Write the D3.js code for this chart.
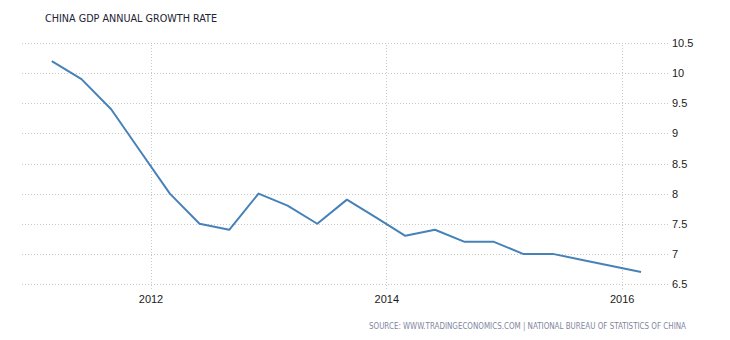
<!DOCTYPE html>
<html>
<head>
<meta charset="utf-8">
<script src="https://cdn.jsdelivr.net/npm/d3@7"></script>
<style>
  html, body { margin: 0; padding: 0; background: #fff; }
  svg { display: block; }
</style>
</head>
<body>
<svg id="chart" width="730" height="340"></svg>
<script>
// Quarterly observations (year-over-year GDP growth, %)
const dates = [
  "2011-03-01", "2011-06-01", "2011-09-01", "2011-12-01",
  "2012-03-01", "2012-06-01", "2012-09-01", "2012-12-01",
  "2013-03-01", "2013-06-01", "2013-09-01", "2013-12-01",
  "2014-03-01", "2014-06-01", "2014-09-01", "2014-12-01",
  "2015-03-01", "2015-06-01", "2015-09-01", "2015-12-01",
  "2016-03-01"
];
const growth = [
  10.2, 9.9, 9.4, 8.7,
  8.0, 7.5, 7.4, 8.0,
  7.8, 7.5, 7.9, 7.6,
  7.3, 7.4, 7.2, 7.2,
  7.0, 7.0, 6.9, 6.8,
  6.7
];
const yTicks = [6.5, 7, 7.5, 8, 8.5, 9, 9.5, 10, 10.5];
const xTickYears = [2012, 2014, 2016];

const titleText = "CHINA GDP ANNUAL GROWTH RATE";
const sourceText = "SOURCE: WWW.TRADINGECONOMICS.COM | NATIONAL BUREAU OF STATISTICS OF CHINA";

const parse = d3.timeParse("%Y-%m-%d");
const data = dates.map((d, i) => ({ date: parse(d), value: growth[i] }));

const svg = d3.select("#chart");

const x = d3.scaleTime()
  .domain([new Date(2012, 0, 1), new Date(2016, 0, 1)])
  .range([150.5, 621.7]);
const y = d3.scaleLinear()
  .domain([6.5, 10.5])
  .range([284, 43]);

const gridLeft = 22, gridRight = 668;
const gridColor = "#c9c9c9";

// Horizontal grid lines and right-hand value labels
const yAxis = d3.axisRight(y)
  .tickValues(yTicks)
  .tickSize(-(gridRight - gridLeft))
  .tickPadding(4)
  .tickFormat(d3.format("~g"));
const gy = svg.append("g")
  .attr("transform", `translate(${gridRight},0)`)
  .call(yAxis);
gy.select(".domain").remove();
gy.selectAll(".tick line")
  .attr("stroke", gridColor)
  .attr("stroke-dasharray", "1,2")
  .attr("shape-rendering", "crispEdges");
gy.selectAll(".tick text")
  .attr("x", 4)
  .attr("fill", "#1a1a1a")
  .attr("font-family", "'Liberation Sans', Arial, sans-serif")
  .attr("font-size", 11);

// Vertical grid lines at year boundaries and year labels
const xAxis = d3.axisBottom(x)
  .tickValues(xTickYears.map(yr => new Date(yr, 0, 1)))
  .tickSize(-(289 - 43))
  .tickPadding(6)
  .tickFormat(d3.timeFormat("%Y"));
const gx = svg.append("g")
  .attr("transform", "translate(0,289)")
  .call(xAxis);
gx.select(".domain").remove();
gx.selectAll(".tick line")
  .attr("stroke", gridColor)
  .attr("stroke-dasharray", "1,2")
  .attr("shape-rendering", "crispEdges");
gx.selectAll(".tick text")
  .attr("fill", "#1a1a1a")
  .attr("font-family", "'Liberation Sans', Arial, sans-serif")
  .attr("font-size", 11);

// Growth rate line
const line = d3.line()
  .x(d => x(d.date))
  .y(d => y(d.value));
svg.append("path")
  .datum(data)
  .attr("fill", "none")
  .attr("stroke", "#4682b8")
  .attr("stroke-width", 2)
  .attr("stroke-linejoin", "round")
  .attr("d", line);

// Title
svg.append("text")
  .attr("x", 45)
  .attr("y", 22)
  .attr("font-family", "'DejaVu Sans Condensed', 'DejaVu Sans', sans-serif")
  .attr("font-stretch", "condensed")
  .attr("font-size", 10.5)
  .attr("fill", "#222233")
  .attr("textLength", 172)
  .attr("lengthAdjust", "spacingAndGlyphs")
  .text(titleText);

// Source note
svg.append("text")
  .attr("x", 369)
  .attr("y", 328.5)
  .attr("font-family", "'DejaVu Sans Condensed', 'DejaVu Sans', sans-serif")
  .attr("font-stretch", "condensed")
  .attr("font-size", 8)
  .attr("fill", "#7f86a0")
  .attr("textLength", 317)
  .attr("lengthAdjust", "spacingAndGlyphs")
  .text(sourceText);
</script>
</body>
</html>
